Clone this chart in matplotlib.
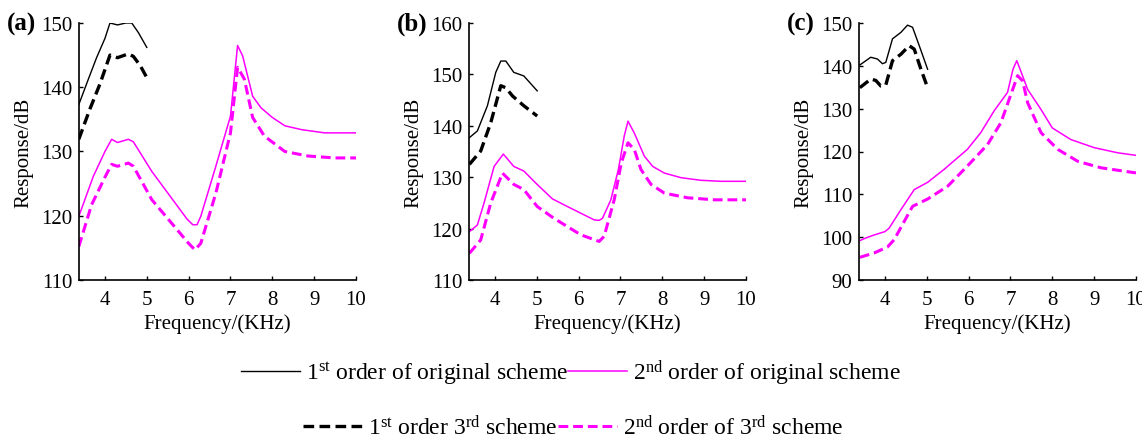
import matplotlib
matplotlib.use("Agg")
import matplotlib.pyplot as plt
from matplotlib.lines import Line2D

plt.rcParams['font.family'] = ['Liberation Serif', 'DejaVu Serif']
plt.rcParams['mathtext.fontset'] = 'custom'
plt.rcParams['mathtext.rm'] = 'Liberation Serif'
plt.rcParams['mathtext.it'] = 'Liberation Serif:italic'
plt.rcParams['mathtext.bf'] = 'Liberation Serif:bold'

MAG = '#FF00FF'

# ---------------- Panel (a) ----------------
a_f1_x = [3.375, 3.6, 3.8, 4.0, 4.12, 4.3, 4.5, 4.64, 4.8, 5.0]
a_f1_y = [137.3, 141.2, 144.6, 147.6, 150.0, 149.7, 150.0, 150.0, 148.5, 146.2]
a_f1d_x = [3.375, 3.64, 3.88, 4.12, 4.3, 4.56, 4.68, 4.85, 5.0]
a_f1d_y = [131.9, 136.6, 140.5, 145.0, 144.6, 145.2, 144.8, 143.3, 141.5]
a_f2_x = [3.375, 3.72, 4.0, 4.16, 4.3, 4.56, 4.68, 5.12, 5.96, 6.1, 6.2, 6.29, 6.65, 7.0, 7.17, 7.29,
          7.53, 7.73, 8.0, 8.3, 8.7, 9.25, 10.0]
a_f2_y = [119.9, 126.1, 130.0, 131.9, 131.4, 131.9, 131.5, 126.9, 119.5, 118.6, 118.6, 119.9, 127.7,
          135.5, 146.5, 144.9, 138.6, 136.8, 135.3, 134.0, 133.4, 132.9, 132.9]
a_f2d_x = [3.375, 3.68, 4.0, 4.16, 4.3, 4.56, 4.68, 5.12, 6.0, 6.15, 6.29, 6.65, 7.0, 7.17, 7.33,
           7.53, 7.81, 8.3, 8.85, 9.49, 10.0]
a_f2d_y = [115.2, 121.7, 126.0, 128.0, 127.7, 128.2, 127.7, 122.5, 115.7, 114.7, 115.7, 123.5, 132.9,
           143.1, 141.3, 135.3, 132.4, 130.0, 129.3, 129.0, 129.0]

# ---------------- Panel (b) ----------------
b_f1_x = [3.39, 3.58, 3.82, 4.02, 4.14, 4.26, 4.45, 4.69, 5.01]
b_f1_y = [137.7, 139.0, 143.9, 150.4, 152.6, 152.6, 150.4, 149.7, 146.8]
b_f1d_x = [3.39, 3.66, 3.9, 4.14, 4.26, 4.42, 4.69, 5.01]
b_f1d_y = [132.5, 135.1, 140.6, 147.8, 147.4, 145.8, 143.9, 141.9]
b_f2_x = [3.39, 3.58, 3.74, 3.98, 4.2, 4.45, 4.69, 4.97, 5.37, 5.73, 6.37, 6.49, 6.57, 6.77, 6.95,
          7.09, 7.18, 7.33, 7.57, 7.77, 8.05, 8.45, 8.92, 9.4, 10.0]
b_f2_y = [119.4, 120.7, 125.0, 132.1, 134.5, 132.1, 131.2, 128.9, 125.8, 124.3, 121.7, 121.6, 122.0,
          125.6, 131.5, 138.0, 140.9, 138.6, 134.1, 132.1, 130.8, 129.9, 129.4, 129.2, 129.2]
b_f2d_x = [3.39, 3.66, 3.9, 4.18, 4.45, 4.69, 5.01, 5.41, 6.05, 6.49, 6.61, 6.85, 7.02, 7.18, 7.33,
           7.49, 7.73, 8.05, 8.6, 9.24, 10.0]
b_f2d_y = [115.2, 117.8, 125.0, 130.8, 128.6, 127.6, 124.3, 122.0, 118.8, 117.5, 118.5, 125.6, 132.8,
           136.7, 135.4, 131.5, 128.6, 126.9, 126.0, 125.6, 125.6]

# ---------------- Panel (c) ----------------
c_f1_x = [3.4, 3.66, 3.82, 3.94, 4.02, 4.18, 4.38, 4.54, 4.66, 4.82, 5.02]
c_f1_y = [140.2, 142.0, 141.6, 140.5, 140.8, 146.3, 147.8, 149.5, 149.0, 144.7, 139.2]
c_f1d_x = [3.4, 3.66, 3.78, 3.9, 4.02, 4.18, 4.38, 4.58, 4.7, 4.86, 5.02]
c_f1d_y = [134.9, 136.9, 136.6, 135.3, 135.5, 141.2, 142.7, 144.7, 143.9, 139.2, 134.9]
c_f2_x = [3.4, 3.54, 3.74, 4.0, 4.1, 4.38, 4.7, 5.02, 5.41, 5.97, 6.29, 6.61, 6.93, 7.06, 7.15, 7.23,
          7.41, 7.73, 8.0, 8.44, 9.0, 9.56, 10.0]
c_f2_y = [99.2, 99.8, 100.5, 101.3, 102.1, 106.4, 111.1, 112.8, 115.8, 120.5, 124.4, 129.5, 133.8,
          139.2, 141.2, 139.2, 134.5, 129.8, 125.5, 122.8, 120.9, 119.7, 119.1]
c_f2d_x = [3.4, 3.74, 4.06, 4.22, 4.66, 5.02, 5.5, 5.97, 6.45, 6.77, 6.97, 7.17, 7.29, 7.41, 7.73,
           8.13, 8.61, 9.16, 10.0]
c_f2d_y = [95.3, 96.3, 97.7, 99.4, 107.2, 108.9, 111.9, 116.6, 121.6, 126.7, 132.2, 137.7, 136.5,
           131.4, 124.4, 120.5, 117.7, 116.2, 115.0]

panel_labels = ['(a)', '(b)', '(c)']
ylims = [(110, 150), (110, 160), (90, 150)]
yticks = [[110, 120, 130, 140, 150], [110, 120, 130, 140, 150, 160],
          [90, 100, 110, 120, 130, 140, 150]]
xticks = [4, 5, 6, 7, 8, 9, 10]
xlim = (3.38, 10)

legend_labels = [r'1$^{\rm st}$ order of original scheme',
                 r'2$^{\rm nd}$ order of original scheme',
                 r'1$^{\rm st}$ order 3$^{\rm rd}$ scheme',
                 r'2$^{\rm nd}$ order of 3$^{\rm rd}$ scheme']

data = [
    (a_f1_x, a_f1_y, a_f1d_x, a_f1d_y, a_f2_x, a_f2_y, a_f2d_x, a_f2d_y),
    (b_f1_x, b_f1_y, b_f1d_x, b_f1d_y, b_f2_x, b_f2_y, b_f2d_x, b_f2d_y),
    (c_f1_x, c_f1_y, c_f1d_x, c_f1d_y, c_f2_x, c_f2_y, c_f2d_x, c_f2d_y),
]

W, H = 1142, 439
fig = plt.figure(figsize=(W / 100, H / 100), dpi=100)
lefts = [79, 469, 859]
ax_w = 277
top_px, bot_px = 24, 281

DASH = (0, (3.2, 1.6))
styles = [dict(color='black', lw=1.0, ls='-'),
          dict(color='black', lw=2.4, ls=DASH),
          dict(color=MAG, lw=1.1, ls='-'),
          dict(color=MAG, lw=2.2, ls=DASH)]

for i, (lp, d) in enumerate(zip(lefts, data)):
    ax = fig.add_axes([lp / W, 1 - bot_px / H, ax_w / W, (bot_px - top_px) / H])
    f1x, f1y, f1dx, f1dy, f2x, f2y, f2dx, f2dy = d
    ax.plot(f1x, f1y, **styles[0])
    ax.plot(f1dx, f1dy, **styles[1])
    ax.plot(f2x, f2y, **styles[2])
    ax.plot(f2dx, f2dy, **styles[3])
    ax.set_xlim(*xlim)
    ax.set_ylim(*ylims[i])
    ax.set_xticks(xticks)
    ax.set_yticks(yticks[i])
    for s in ['top', 'right']:
        ax.spines[s].set_visible(False)
    for s in ['left', 'bottom']:
        ax.spines[s].set_linewidth(1.2)
    ax.tick_params(axis='both', direction='in', length=3, width=1.0, labelsize=15)
    ax.tick_params(axis='x', pad=7)
    ax.tick_params(axis='y', pad=5)
    ax.set_xlabel('Frequency/(KHz)', fontsize=15, labelpad=3)
    ax.set_ylabel('Response/dB', fontsize=15, labelpad=5)
    ax.text(-0.26, 1.0, panel_labels[i], transform=ax.transAxes, fontsize=18,
            fontweight='bold', ha='left', va='center')

h = [Line2D([], [], **st) for st in styles]
fig.legend([h[0], h[2]], [legend_labels[0], legend_labels[1]], loc='center',
           bbox_to_anchor=(0.5, 1 - 373 / H), ncol=2, frameon=False, fontsize=17,
           handlelength=2.5, handletextpad=0.25, columnspacing=0.0, borderpad=0)
fig.legend([h[1], h[3]], [legend_labels[2], legend_labels[3]], loc='center',
           bbox_to_anchor=(0.502, 1 - 428 / H), ncol=2, frameon=False, fontsize=17,
           handlelength=2.5, handletextpad=0.25, columnspacing=0.0, borderpad=0)

fig.savefig('out.png', dpi=100, facecolor='white')
